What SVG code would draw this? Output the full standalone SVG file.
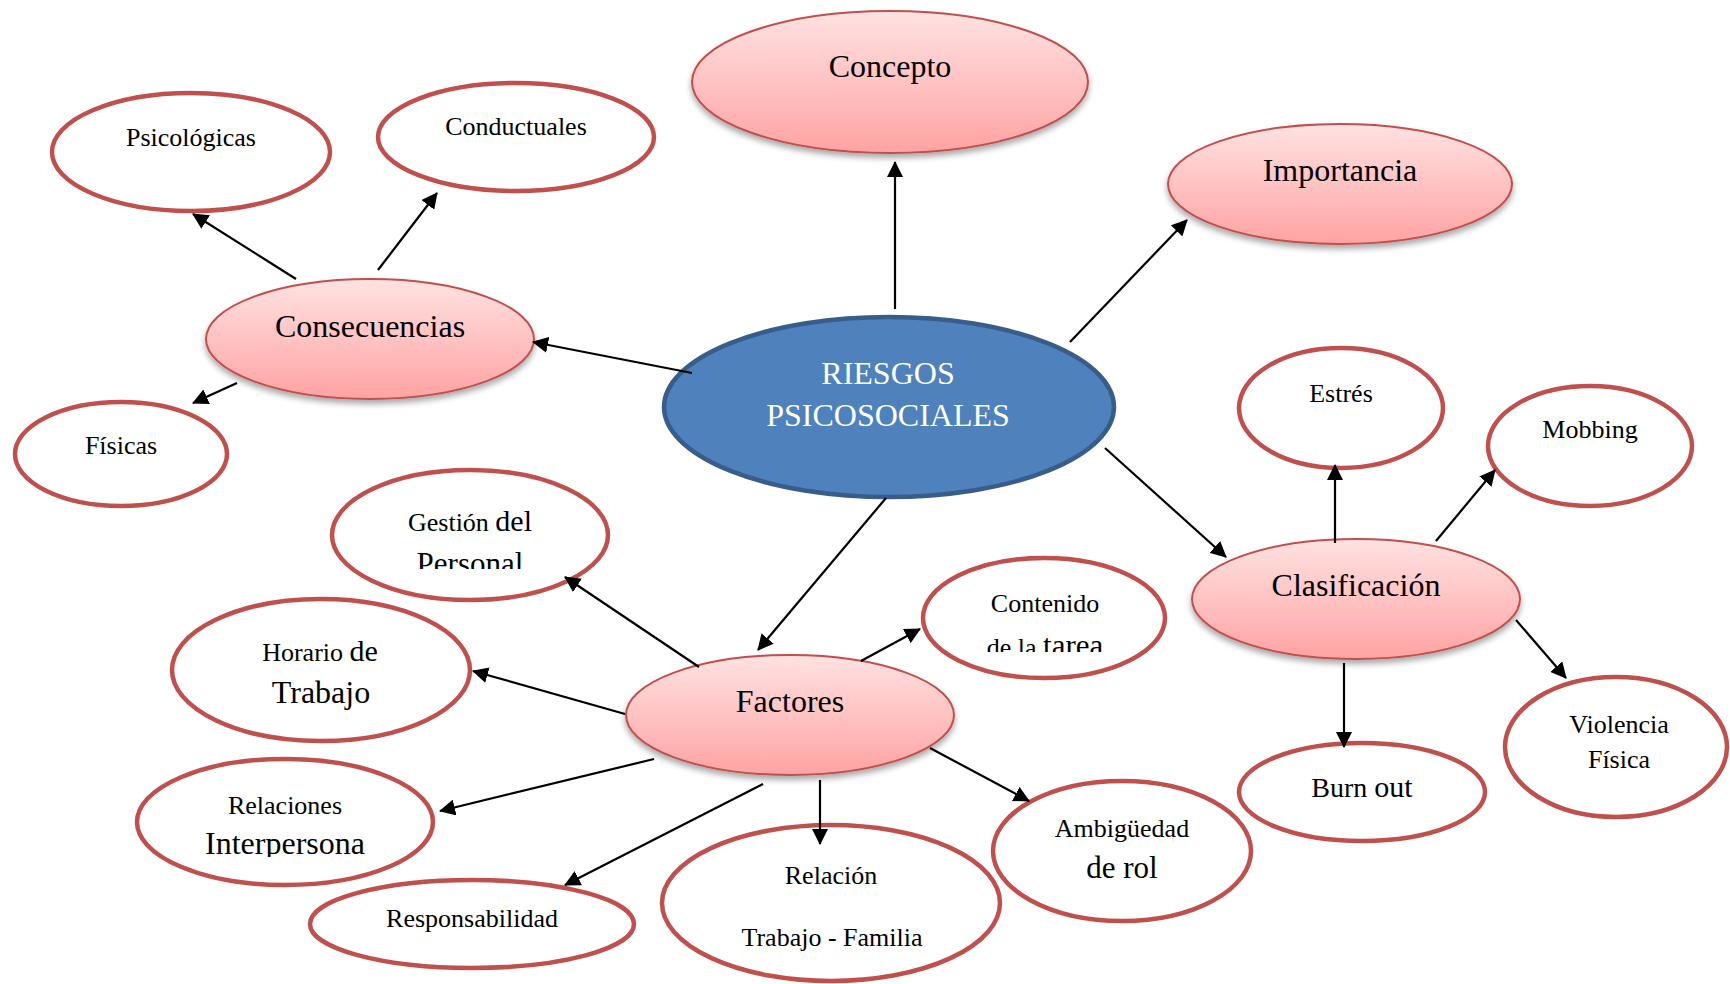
<svg xmlns="http://www.w3.org/2000/svg" width="1730" height="984" viewBox="0 0 1730 984">
<style>
text{font-family:"Liberation Serif","Times New Roman",serif;fill:#000;text-anchor:middle}
.pink{fill:url(#pg);stroke:#C0504D;stroke-width:2;filter:url(#sh)}
.white{fill:#fff;stroke:#C0504D;stroke-width:4.5}
.blue{fill:#4F81BD;stroke:#385D8A;stroke-width:4.5}
.big{font-size:32px}
.sm{font-size:26px}
.wt{fill:#fff;font-size:32px}
#connectors line{stroke:#000;stroke-width:2.2;marker-end:url(#ah)}
</style>
<defs>
<linearGradient id="pg" x1="0" y1="0" x2="0" y2="1">
<stop offset="0" stop-color="#FFE2E2"/>
<stop offset="1" stop-color="#FFA3A3"/>
</linearGradient>
<filter id="sh" x="-10%" y="-10%" width="120%" height="130%">
<feGaussianBlur in="SourceAlpha" stdDeviation="3"/>
<feOffset dx="0" dy="4" result="b"/>
<feComponentTransfer><feFuncA type="linear" slope="0.35"/></feComponentTransfer>
<feMerge><feMergeNode/><feMergeNode in="SourceGraphic"/></feMerge>
</filter>
<marker id="ah" markerUnits="userSpaceOnUse" markerWidth="16" markerHeight="16" viewBox="0 0 16 16" refX="15" refY="8" orient="auto">
<path d="M0,0 L16,8 L0,16 z" fill="#000"/>
</marker>
<clipPath id="cPers"><rect x="380" y="540" width="180" height="29"/></clipPath>
<clipPath id="cTarea"><rect x="960" y="625" width="170" height="27"/></clipPath>
<clipPath id="cInter"><rect x="190" y="820" width="200" height="37"/></clipPath>
</defs>

<g id="node-concepto">
<ellipse class="pink" cx="890" cy="82" rx="198" ry="71"/>
<text class="big" x="890" y="77">Concepto</text>
</g>
<g id="node-importancia">
<ellipse class="pink" cx="1340" cy="184" rx="172" ry="60"/>
<text class="big" x="1340" y="181">Importancia</text>
</g>
<g id="node-consecuencias">
<ellipse class="pink" cx="370" cy="339" rx="164" ry="60"/>
<text class="big" x="370" y="337">Consecuencias</text>
</g>
<g id="node-clasificacion">
<ellipse class="pink" cx="1356" cy="599" rx="164" ry="60"/>
<text class="big" x="1356" y="596">Clasificación</text>
</g>
<g id="node-factores">
<ellipse class="pink" cx="790" cy="715" rx="164" ry="60"/>
<text class="big" x="790" y="712">Factores</text>
</g>
<g id="node-riesgos">
<ellipse class="blue" cx="889" cy="407" rx="225" ry="90"/>
<text class="wt" x="888" y="384">RIESGOS</text>
<text class="wt" x="888" y="426">PSICOSOCIALES</text>
</g>

<g id="node-psicologicas">
<ellipse class="white" cx="191" cy="152" rx="139" ry="59"/>
<text class="sm" x="191" y="146">Psicológicas</text>
</g>
<g id="node-conductuales">
<ellipse class="white" cx="516" cy="137" rx="138" ry="54"/>
<text class="sm" x="516" y="135">Conductuales</text>
</g>
<g id="node-fisicas">
<ellipse class="white" cx="121" cy="454" rx="106" ry="52"/>
<text class="sm" x="121" y="454">Físicas</text>
</g>
<g id="node-gestion">
<ellipse class="white" cx="470" cy="535" rx="138" ry="65"/>
<text x="470" y="531"><tspan font-size="26">Gestión </tspan><tspan font-size="30">del</tspan></text>
<text x="470" y="574" font-size="31" clip-path="url(#cPers)">Personal</text>
</g>
<g id="node-horario">
<ellipse class="white" cx="321" cy="670" rx="149" ry="71"/>
<text x="320" y="661"><tspan font-size="26">Horario </tspan><tspan font-size="30">de</tspan></text>
<text class="big" x="321" y="703">Trabajo</text>
</g>
<g id="node-relaciones">
<ellipse class="white" cx="285" cy="822" rx="148" ry="63"/>
<text class="sm" x="285" y="814">Relaciones</text>
<text class="big" x="285" y="854" clip-path="url(#cInter)">Interpersona</text>
</g>
<g id="node-responsabilidad">
<ellipse class="white" cx="472" cy="924" rx="162" ry="44"/>
<text class="sm" x="472" y="927">Responsabilidad</text>
</g>
<g id="node-relacion">
<ellipse class="white" cx="831" cy="903" rx="169" ry="78"/>
<text class="sm" x="831" y="884">Relación</text>
<text class="sm" x="832" y="946">Trabajo - Familia</text>
</g>
<g id="node-ambiguedad">
<ellipse class="white" cx="1122" cy="851" rx="129" ry="70"/>
<text class="sm" x="1122" y="837">Ambigüedad</text>
<text x="1122" y="878" font-size="31">de rol</text>
</g>
<g id="node-contenido">
<ellipse class="white" cx="1044" cy="618" rx="121" ry="60"/>
<text class="sm" x="1045" y="612">Contenido</text>
<text x="1045" y="656" clip-path="url(#cTarea)"><tspan font-size="26">de la </tspan><tspan font-size="31">tarea</tspan></text>
</g>
<g id="node-estres">
<ellipse class="white" cx="1341" cy="408" rx="102" ry="60"/>
<text class="sm" x="1341" y="402">Estrés</text>
</g>
<g id="node-mobbing">
<ellipse class="white" cx="1590" cy="446" rx="102" ry="60"/>
<text class="sm" x="1590" y="438">Mobbing</text>
</g>
<g id="node-burnout">
<ellipse class="white" cx="1362" cy="792" rx="123" ry="49"/>
<text x="1362" y="797"><tspan font-size="28">Burn </tspan><tspan font-size="30">out</tspan></text>
</g>
<g id="node-violencia">
<ellipse class="white" cx="1616" cy="747" rx="111" ry="70"/>
<text class="sm" x="1619" y="733">Violencia</text>
<text class="sm" x="1619" y="768">Física</text>
</g>

<g id="connectors">
<line x1="895" y1="309" x2="895" y2="162"/>
<line x1="1070" y1="342" x2="1187" y2="220"/>
<line x1="692" y1="373" x2="533" y2="342"/>
<line x1="1105" y1="448" x2="1226" y2="557"/>
<line x1="886" y1="498" x2="758" y2="650"/>
<line x1="296" y1="279" x2="193" y2="214"/>
<line x1="378" y1="270" x2="437" y2="193"/>
<line x1="237" y1="383" x2="193" y2="403"/>
<line x1="1335" y1="543" x2="1335" y2="465"/>
<line x1="1436" y1="541" x2="1495" y2="470"/>
<line x1="1516" y1="620" x2="1566" y2="678"/>
<line x1="1344" y1="663" x2="1344" y2="747"/>
<line x1="699" y1="667" x2="565" y2="577"/>
<line x1="625" y1="714" x2="473" y2="671"/>
<line x1="654" y1="759" x2="440" y2="811"/>
<line x1="763" y1="784" x2="565" y2="885"/>
<line x1="820" y1="780" x2="820" y2="844"/>
<line x1="930" y1="748" x2="1029" y2="801"/>
<line x1="861" y1="661" x2="920" y2="629"/>
</g>
</svg>
